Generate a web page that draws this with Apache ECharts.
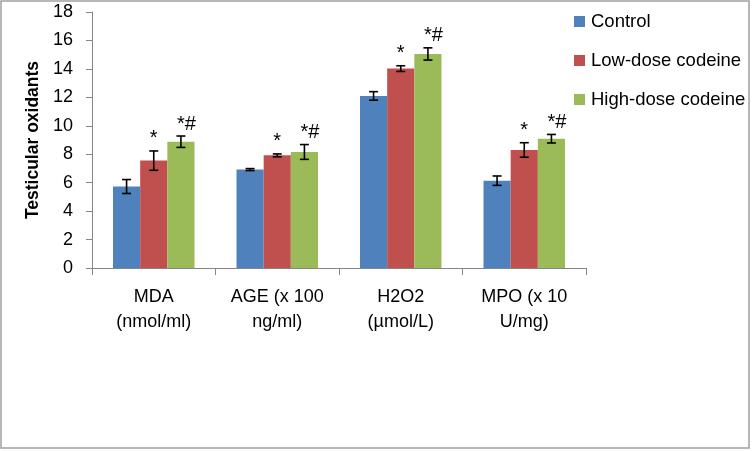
<!DOCTYPE html>
<html>
<head>
<meta charset="utf-8">
<script src="https://cdn.jsdelivr.net/npm/echarts@6/dist/echarts.min.js"></script>
<style>
html,body{margin:0;padding:0;background:#fff;}
#chart{width:752px;height:451px;}
</style>
</head>
<body>
<div id="chart"></div>
<script>
var categories = ['MDA\n(nmol/ml)', 'AGE (x 100\nng/ml)', 'H2O2\n(\u00b5mol/L)', 'MPO (x 10\nU/mg)'];
var seriesNames = ['Control', 'Low-dose codeine', 'High-dose codeine'];
var controlValues = [5.73, 6.92, 12.1, 6.14];
var controlErrors = [0.49, 0.07, 0.3, 0.33];
var lowValues = [7.55, 7.92, 14.02, 8.3];
var lowErrors = [0.68, 0.1, 0.2, 0.51];
var highValues = [8.88, 8.16, 15.05, 9.09];
var highErrors = [0.4, 0.52, 0.43, 0.3];
var annotations = ['', '*', '*#'];
var yTicks = {min: 0, max: 18, interval: 2};

var colors = ['#4F81BD', '#C0504D', '#9BBB59'];
var values = [controlValues, lowValues, highValues];
var errors = [controlErrors, lowErrors, highErrors];
var FONT = 'Liberation Sans';
var catGap = 0.34;

var series = [];
for (var s = 0; s < 3; s++) {
  series.push({
    name: seriesNames[s],
    type: 'bar',
    data: values[s],
    barGap: '0%',
    barCategoryGap: (catGap * 100) + '%',
    itemStyle: {color: colors[s]},
    silent: true,
    z: 2
  });
}
for (var s2 = 0; s2 < 3; s2++) {
  (function (si) {
    var data = values[si].map(function (v, i) { return [i, v, errors[si][i]]; });
    series.push({
      type: 'custom',
      name: seriesNames[si] + ' err',
      silent: true,
      z: 5,
      data: data,
      encode: {x: 0, y: 1},
      renderItem: function (params, api) {
        var ci = api.value(0), v = api.value(1), e = api.value(2);
        var band = api.size([1, 0])[0];
        var bw = band * (1 - catGap) / 3;
        var c = api.coord([ci, v]);
        var x = c[0] + (si - 1) * bw;
        var yTop = api.coord([ci, v + e])[1];
        var yBot = api.coord([ci, v - e])[1];
        var cap = 4.5;
        var st = {stroke: '#000', lineWidth: 1.6};
        var children = [
          {type: 'line', shape: {x1: x, y1: yTop, x2: x, y2: yBot}, style: st},
          {type: 'line', shape: {x1: x - cap, y1: yTop, x2: x + cap, y2: yTop}, style: st},
          {type: 'line', shape: {x1: x - cap, y1: yBot, x2: x + cap, y2: yBot}, style: st}
        ];
        if (annotations[si]) {
          children.push({
            type: 'text',
            style: {
              text: annotations[si], x: x - 4, y: yTop - 2,
              align: 'left', verticalAlign: 'bottom',
              fontFamily: FONT, fontSize: 20, fill: '#000'
            }
          });
        }
        return {type: 'group', children: children};
      }
    });
  })(s2);
}

var chart = echarts.init(document.getElementById('chart'), null, {renderer: 'canvas'});
chart.setOption({
  animation: false,
  backgroundColor: '#fff',
  textStyle: {fontFamily: FONT},
  grid: {left: 92, right: 166, top: 12, bottom: 183, containLabel: false},
  legend: {
    data: seriesNames,
    orient: 'vertical',
    left: 569, top: 7,
    itemWidth: 11, itemHeight: 11, itemGap: 20,
    icon: 'rect',
    selectedMode: false,
    textStyle: {fontFamily: FONT, fontSize: 18.5, color: '#000', padding: [0, 0, 0, 1]}
  },
  xAxis: {
    type: 'category',
    data: categories,
    axisLine: {lineStyle: {color: '#868686', width: 1}},
    axisTick: {show: true, length: 7, lineStyle: {color: '#868686'}},
    axisLabel: {fontFamily: FONT, fontSize: 18, color: '#000', margin: 17, lineHeight: 25, interval: 0}
  },
  yAxis: {
    type: 'value',
    min: yTicks.min, max: yTicks.max, interval: yTicks.interval,
    name: 'Testicular oxidants',
    nameLocation: 'middle',
    nameGap: 48,
    nameRotate: 90,
    nameTextStyle: {fontFamily: FONT, fontSize: 17.5, fontWeight: 'bold', color: '#000'},
    axisLine: {show: true, lineStyle: {color: '#868686', width: 1}},
    axisTick: {show: true, length: 6, lineStyle: {color: '#868686'}},
    splitLine: {show: false},
    axisLabel: {fontFamily: FONT, fontSize: 18, color: '#000', margin: 19}
  },
  graphic: [{
    type: 'rect', silent: true,
    shape: {x: 1, y: 1, width: 748, height: 447},
    style: {fill: 'none', stroke: '#a0a0a0', lineWidth: 1.5}
  }],
  series: series
});
</script>
</body>
</html>
